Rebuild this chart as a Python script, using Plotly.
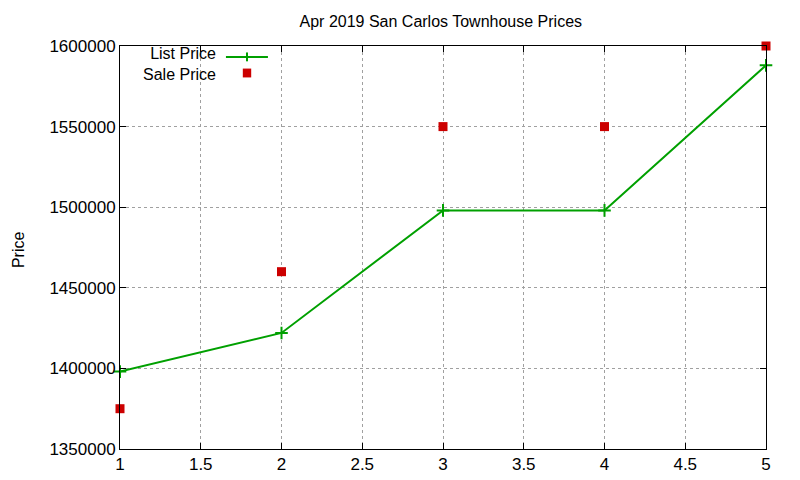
import plotly.graph_objects as go

# 数据
positions = [1, 2, 3, 4, 5]
list_price = [1398000, 1422000, 1498000, 1498000, 1588000]
sale_price = [1375000, 1460000, 1550000, 1550000, 1600000]

green = "#00a000"
red = "#cc0000"
font = "Liberation Sans, Arial, sans-serif"

fig = go.Figure()
fig.add_trace(go.Scatter(
    x=positions, y=list_price, mode="lines+markers", name="List Price",
    line=dict(color=green, width=2),
    marker=dict(symbol="cross-thin", size=9, line=dict(color=green, width=2)),
    cliponaxis=False,
))
fig.add_trace(go.Scatter(
    x=positions, y=sale_price, mode="markers", name="Sale Price",
    marker=dict(symbol="square", size=9, color=red),
    cliponaxis=False,
))

axis_common = dict(
    showline=True, linecolor="black", linewidth=1, mirror="ticks",
    ticks="inside", ticklen=6, tickcolor="black",
    showgrid=True, gridcolor="#a0a0a0", griddash="dot", gridwidth=1,
    zeroline=False, automargin=False,
    tickfont=dict(family=font, size=17, color="black"),
)

fig.update_xaxes(range=[1, 5], dtick=0.5, tick0=1, **axis_common)
fig.update_yaxes(range=[1350000, 1600000], dtick=50000, tickformat="d", **axis_common)

# 图例（gnuplot风格：文字在左，样例在右）
fig.add_annotation(x=0.1517, y=0.955, xref="paper", yref="paper",
                   text="List Price<br>Sale Price", align="right",
                   showarrow=False, xanchor="right", yanchor="middle",
                   font=dict(family=font, size=16, color="black"))
fig.add_shape(type="line", xref="paper", yref="paper", x0=0.164, x1=0.229, y0=0.9727, y1=0.9727,
              line=dict(color=green, width=2))
fig.add_shape(type="line", xref="paper", yref="paper", x0=0.1966, x1=0.1966, y0=0.962, y1=0.984,
              line=dict(color=green, width=2))
fig.add_shape(type="rect", xref="paper", yref="paper", x0=0.1901, x1=0.2031, y0=0.922, y1=0.944,
              fillcolor=red, line=dict(width=0))

# y轴标题
fig.add_annotation(x=-0.1579, y=0.496, xref="paper", yref="paper", text="Price",
                   textangle=-90, showarrow=False, xanchor="center", yanchor="middle",
                   font=dict(family=font, size=16, color="black"))

# 页面 body 有约 7px 的偏移，边距相应调整
fig.update_layout(
    width=800, height=480,
    margin=dict(l=112, r=42, t=38, b=39),
    plot_bgcolor="white", paper_bgcolor="white",
    showlegend=False,
    title=dict(text="Apr 2019 San Carlos Townhouse Prices", x=0.541, xanchor="center",
               y=1 - 13 / 480, yanchor="middle",
               font=dict(family=font, size=16, color="black")),
)

fig.write_html("out.html")
